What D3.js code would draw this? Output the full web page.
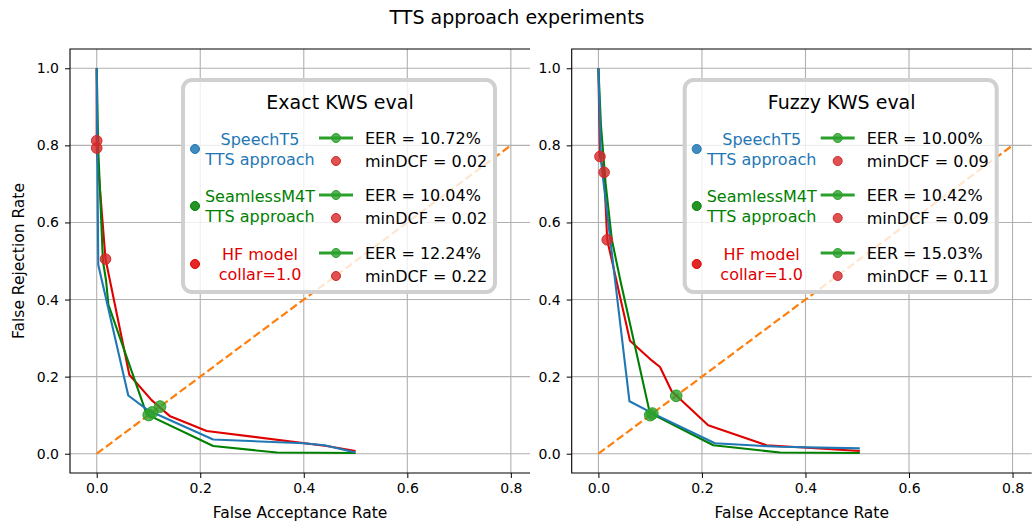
<!DOCTYPE html>
<html>
<head>
<meta charset="utf-8">
<script src="https://cdn.jsdelivr.net/npm/d3@7/dist/d3.min.js"></script>
<style>
  html, body { margin: 0; padding: 0; background: #fff; }
  svg { display: block; font-family: "DejaVu Sans", sans-serif; }
</style>
</head>
<body>
<svg id="chart" width="1034" height="526"></svg>
<script>
// ---- data ----
const figureTitle = "TTS approach experiments";
const panelTitles = ["Exact KWS eval", "Fuzzy KWS eval"];
const modelNames = ["SpeechT5\nTTS approach", "SeamlessM4T\nTTS approach", "HF model\ncollar=1.0"];
const xTicks = [0.0, 0.2, 0.4, 0.6, 0.8];
const yTicks = [0.0, 0.2, 0.4, 0.6, 0.8, 1.0];
const diagonal = [[0, 0], [0.8, 0.8]];

// [false acceptance rate, false rejection rate]
const exactSpeechT5 = [[0, 1.0], [0.001, 0.81], [0.003, 0.49], [0.061, 0.151], [0.1, 0.112], [0.225, 0.037], [0.4, 0.027], [0.44, 0.022], [0.5, 0.003]];
const exactSeamless = [[0, 1.0], [0.003, 0.79], [0.012, 0.5], [0.018, 0.45], [0.0225, 0.387], [0.0966, 0.102], [0.225, 0.02], [0.348, 0.003], [0.5, 0.002]];
const exactHF = [[0, 1.0], [0.0, 0.812], [0.0, 0.793], [0.017, 0.505], [0.063, 0.205], [0.106, 0.139], [0.142, 0.097], [0.2125, 0.059], [0.444, 0.02], [0.5, 0.007]];

const fuzzySpeechT5 = [[0, 1.0], [0.005, 0.76], [0.032, 0.452], [0.06, 0.136], [0.106, 0.104], [0.225, 0.027], [0.35, 0.018], [0.505, 0.014]];
const fuzzySeamless = [[0, 1.0], [0.005, 0.85], [0.014, 0.7], [0.026, 0.555], [0.042, 0.452], [0.0993, 0.106], [0.222, 0.022], [0.351, 0.003], [0.505, 0.002]];
const fuzzyHF = [[0, 1.0], [0.003, 0.771], [0.011, 0.73], [0.017, 0.555], [0.061, 0.293], [0.103, 0.242], [0.119, 0.225], [0.1416, 0.162], [0.212, 0.074], [0.325, 0.022], [0.505, 0.007]];

const exactEER = [10.72, 10.04, 12.24];
const exactMinDCF = [0.02, 0.02, 0.22];
const exactMinDCFPoints = [[0.0, 0.812], [0.0, 0.793], [0.017, 0.505]];

const fuzzyEER = [10.00, 10.42, 15.03];
const fuzzyMinDCF = [0.09, 0.09, 0.11];
const fuzzyMinDCFPoints = [[0.003, 0.771], [0.011, 0.73], [0.017, 0.555]];

// ---- styling ----
const curveColors = ["#1f77b4", "#008000", "#e00000"];
const labelColors = ["#1f77b4", "#008000", "#e00000"];
const eerColor = "#2ca02c";
const dcfColor = "#d62728";
const diagColor = "#ff7f0e";

const svg = d3.select("#chart");

svg.append("text")
  .attr("x", 517).attr("y", 24)
  .attr("text-anchor", "middle")
  .attr("font-size", 19)
  .attr("fill", "#000")
  .text(figureTitle);

const panels = [
  { left: 70, title: panelTitles[0], curves: [exactSpeechT5, exactSeamless, exactHF], eer: exactEER, dcf: exactMinDCF, dcfPts: exactMinDCFPoints, ylabel: true },
  { left: 571.7, title: panelTitles[1], curves: [fuzzySpeechT5, fuzzySeamless, fuzzyHF], eer: fuzzyEER, dcf: fuzzyMinDCF, dcfPts: fuzzyMinDCFPoints, ylabel: false }
];

const axW = 460, axTop = 49, axBottom = 473;

panels.forEach(p => {
  const x = d3.scaleLinear().domain([-0.0516, 0.837]).range([p.left, p.left + axW]);
  const y = d3.scaleLinear().domain([-0.05, 1.05]).range([axBottom, axTop]);
  const g = svg.append("g");

  // grid
  const grid = g.append("g").attr("stroke", "#b0b0b0").attr("stroke-width", 1.1);
  xTicks.forEach(t => grid.append("line").attr("x1", x(t)).attr("x2", x(t)).attr("y1", axTop).attr("y2", axBottom));
  yTicks.forEach(t => grid.append("line").attr("x1", p.left).attr("x2", p.left + axW).attr("y1", y(t)).attr("y2", y(t)));

  // axes
  const xa = g.append("g").attr("transform", `translate(0,${axBottom})`)
    .call(d3.axisBottom(x).tickValues(xTicks).tickFormat(d3.format(".1f")).tickSize(5).tickPadding(5));
  const ya = g.append("g").attr("transform", `translate(${p.left},0)`)
    .call(d3.axisLeft(y).tickValues(yTicks).tickFormat(d3.format(".1f")).tickSize(5).tickPadding(6));
  [xa, ya].forEach(a => {
    a.select(".domain").remove();
    a.selectAll("text").attr("font-size", 14).attr("font-family", "DejaVu Sans").attr("fill", "#000");
    a.selectAll("line").attr("stroke", "#000").attr("stroke-width", 1);
  });

  // spines: left, top, bottom
  const sp = g.append("g").attr("stroke", "#000").attr("stroke-width", 1.1).attr("fill", "none");
  sp.append("path").attr("d", `M${p.left + axW},${axTop}H${p.left}V${axBottom}H${p.left + axW}`);

  const line = d3.line().x(d => x(d[0])).y(d => y(d[1]));

  // reference diagonal
  g.append("path").datum(diagonal)
    .attr("d", line).attr("fill", "none")
    .attr("stroke", diagColor).attr("stroke-width", 2.2)
    .attr("stroke-dasharray", "8,3.5");

  // curves (red, green, blue order so blue sits on top)
  [2, 1, 0].forEach(i => {
    g.append("path").datum(p.curves[i])
      .attr("d", line).attr("fill", "none")
      .attr("stroke", curveColors[i]).attr("stroke-width", 2.1)
      .attr("stroke-linejoin", "round");
  });

  // EER points on the diagonal
  p.eer.forEach(e => {
    g.append("circle").attr("cx", x(e / 100)).attr("cy", y(e / 100)).attr("r", 5.8)
      .attr("fill", eerColor).attr("fill-opacity", 0.8)
      .attr("stroke", eerColor).attr("stroke-width", 1);
  });

  // minDCF operating points
  p.dcfPts.forEach(d => {
    g.append("circle").attr("cx", x(d[0])).attr("cy", y(d[1])).attr("r", 5.3)
      .attr("fill", dcfColor).attr("fill-opacity", 0.8)
      .attr("stroke", dcfColor).attr("stroke-width", 1);
  });

  // axis labels
  g.append("text").attr("x", p.left + axW / 2).attr("y", 518)
    .attr("text-anchor", "middle").attr("font-size", 15.5).text("False Acceptance Rate");
  if (p.ylabel) {
    g.append("text").attr("transform", `translate(24,261) rotate(-90)`)
      .attr("text-anchor", "middle").attr("font-size", 15.5).text("False Rejection Rate");
  }

  // legend
  const lx = p.left + 113, ly = 80;
  const lg = g.append("g").attr("transform", `translate(${lx},${ly})`);
  lg.append("rect").attr("x", 0).attr("y", 0).attr("width", 312).attr("height", 212)
    .attr("rx", 9).attr("ry", 9)
    .attr("fill", "#fff").attr("fill-opacity", 0.8)
    .attr("stroke", "#d0d0d0").attr("stroke-width", 4);
  lg.append("text").attr("x", 157).attr("y", 22).attr("dy", "0.35em")
    .attr("text-anchor", "middle").attr("font-size", 19).text(p.title);

  const rowY = [69, 126, 184];
  modelNames.forEach((name, i) => {
    const cy = rowY[i];
    lg.append("circle").attr("cx", 12).attr("cy", cy).attr("r", 4.5)
      .attr("fill", curveColors[i]).attr("fill-opacity", 0.85)
      .attr("stroke", curveColors[i]).attr("stroke-width", 1);
    name.split("\n").forEach((ln, k) => {
      lg.append("text").attr("x", 77).attr("y", cy - 10 + k * 20.5).attr("dy", "0.35em")
        .attr("text-anchor", "middle").attr("font-size", 16)
        .attr("fill", labelColors[i]).text(ln);
    });
    // EER handle
    const ey = cy - 11;
    lg.append("line").attr("x1", 136).attr("x2", 170).attr("y1", ey).attr("y2", ey)
      .attr("stroke", eerColor).attr("stroke-width", 3);
    lg.append("circle").attr("cx", 153).attr("cy", ey).attr("r", 4.5)
      .attr("fill", eerColor).attr("fill-opacity", 0.8).attr("stroke", eerColor);
    lg.append("text").attr("x", 182).attr("y", ey).attr("dy", "0.35em")
      .attr("font-size", 16).text(`EER = ${p.eer[i].toFixed(2)}%`);
    // minDCF handle
    const dy = cy + 12;
    lg.append("circle").attr("cx", 153).attr("cy", dy).attr("r", 4.5)
      .attr("fill", dcfColor).attr("fill-opacity", 0.8).attr("stroke", dcfColor);
    lg.append("text").attr("x", 182).attr("y", dy).attr("dy", "0.35em")
      .attr("font-size", 16).text(`minDCF = ${p.dcf[i].toFixed(2)}`);
  });
});
</script>
</body>
</html>
